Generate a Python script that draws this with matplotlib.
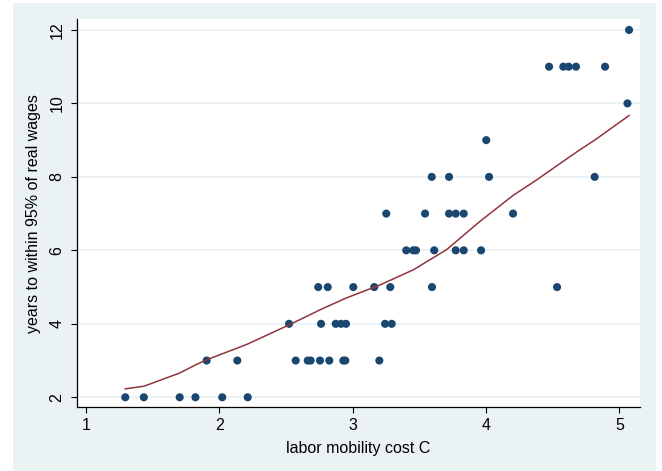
import matplotlib
matplotlib.use('Agg')
import matplotlib.pyplot as plt
from matplotlib.patches import Rectangle

# scatter data: labor mobility cost C vs years to within 95% of real wages
cost = [1.295, 1.434, 1.703, 1.821, 2.022, 2.213,
        1.905, 2.135, 2.573, 2.663, 2.685, 2.755, 2.825, 2.930, 2.945, 3.200,
        2.523, 2.763, 2.873, 2.913, 2.950, 3.243, 3.293,
        2.742, 2.813, 3.005, 3.162, 3.282, 3.595, 4.533,
        3.402, 3.455, 3.475, 3.612, 3.773, 3.833, 3.963,
        3.252, 3.543, 3.723, 3.773, 3.833, 4.203,
        3.593, 3.723, 4.023, 4.815,
        4.002,
        5.061,
        4.473, 4.580, 4.620, 4.675, 4.893,
        5.073]
years = [2]*6 + [3]*10 + [4]*7 + [5]*7 + [6]*7 + [7]*6 + [8]*4 + [9] + [10] + [11]*5 + [12]

# lowess smooth
fit_x = [1.295, 1.434, 1.703, 1.821, 1.905, 2.135, 2.213, 2.523, 2.755, 2.95,
         3.2, 3.455, 3.705, 3.955, 4.205, 4.373, 4.53, 4.705, 4.815, 5.073]
fit_y = [2.23, 2.30, 2.66, 2.88, 3.02, 3.34, 3.45, 3.97, 4.38, 4.70,
         5.05, 5.47, 6.02, 6.79, 7.50, 7.90, 8.30, 8.74, 9.00, 9.67]

xticks = [1, 2, 3, 4, 5]
yticks = [2, 4, 6, 8, 10, 12]

plt.rcParams['font.family'] = ['Liberation Sans', 'DejaVu Sans']

W, H = 662, 471
fig = plt.figure(figsize=(W/100, H/100), dpi=100)
fig.patch.set_facecolor('white')
bg = Rectangle((12.7/W, 0), (656-12.7)/W, 1-3.3/H,
               transform=fig.transFigure, facecolor='#eaf2f3',
               edgecolor='none', zorder=-5)
fig.add_artist(bg)

ax = fig.add_axes([76.5/W, 1-407.3/H, (640-76.5)/W, (407.3-19.3)/H])
ax.set_zorder(2)
ax.set_facecolor('white')
ax.set_xlim(0.929, 5.155)
ax.set_ylim(1.727, 12.29)

for yv in yticks:
    ax.axhline(yv, color='#eaf2f3', lw=1.3, zorder=1)

ax.scatter(cost, years, s=34, color='#1a476f', edgecolors='none', zorder=3)
ax.plot(fit_x, fit_y, color='#90353b', lw=1.1, zorder=4)

ax.spines['top'].set_visible(False)
ax.spines['right'].set_visible(False)
for s in ('left', 'bottom'):
    ax.spines[s].set_linewidth(0.9)
    ax.spines[s].set_color('black')

ax.set_xticks(xticks)
ax.set_yticks(yticks)
ax.tick_params(axis='both', direction='out', length=4.5, width=0.8, labelsize=11.5, colors='black')
ax.tick_params(axis='x', pad=3)
ax.tick_params(axis='y', pad=4)
for lab in ax.get_yticklabels():
    lab.set_rotation(90)
    lab.set_va('center')

ax.set_xlabel('labor mobility cost C', fontsize=11.5, labelpad=6)
ax.set_ylabel('years to within 95% of real wages', fontsize=11.5, labelpad=6)

fig.savefig('out.png', dpi=100, facecolor='white')
